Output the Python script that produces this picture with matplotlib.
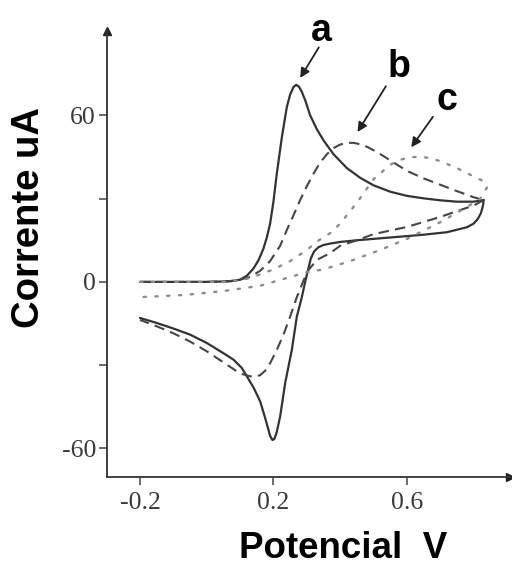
import matplotlib
matplotlib.use("Agg")
import matplotlib.pyplot as plt

plt.rcParams['axes.unicode_minus'] = False

# Curve a (solid): forward and reverse scans
a_fwd_x = [-0.2, 0.0, 0.07, 0.1, 0.12, 0.14, 0.155, 0.17, 0.18, 0.19, 0.2, 0.21, 0.225, 0.24, 0.25,
           0.26, 0.268, 0.276, 0.285, 0.295, 0.31, 0.33, 0.35, 0.38, 0.42, 0.46, 0.5, 0.55, 0.6, 0.65,
           0.7, 0.75, 0.8, 0.83]
a_fwd_y = [0, 0, 0.2, 0.8, 2.2, 4.8, 7.8, 12, 16, 21, 29, 39, 52, 63, 67.5,
           70.2, 71, 70.4, 68.5, 65.5, 60, 55, 51, 46, 41, 37.5, 34.8, 32.5, 31, 30.1,
           29.4, 28.9, 28.9, 29.5]
a_rev_x = [0.83, 0.828, 0.822, 0.812, 0.8, 0.78, 0.75, 0.72, 0.65, 0.55, 0.45, 0.4, 0.37, 0.35,
           0.335, 0.322, 0.312, 0.305, 0.295, 0.285, 0.27, 0.255, 0.235, 0.22, 0.21, 0.203,
           0.197, 0.19, 0.175, 0.16, 0.14, 0.12, 0.105, 0.08, 0.05, 0.0, -0.05, -0.1, -0.15, -0.2]
a_rev_y = [29.5, 27.5, 24.8, 22.6, 21, 19.7, 18.8, 17.9, 17, 16, 15, 14.4, 13.8, 13.3,
           12.5, 11, 8.5, 5, 0, -5.5, -12.5, -24.5, -36.5, -48.5, -54, -56.5,
           -57, -55.5, -49, -43, -38, -34, -31, -28, -25.7, -22, -19, -16.8, -14.8, -13]

# Curve b (dashed)
b_fwd_x = [-0.2, 0.0, 0.07, 0.1, 0.13, 0.16, 0.19, 0.22, 0.24, 0.26, 0.28, 0.3, 0.32, 0.34, 0.36,
           0.38, 0.4, 0.42, 0.44, 0.46, 0.48, 0.51, 0.55, 0.6, 0.65, 0.7, 0.75, 0.8, 0.83]
b_fwd_y = [0, 0, 0.3, 0.8, 1.8, 4, 7.5, 13, 18.7, 24, 29.5, 34.5, 39, 43, 46,
           48.2, 49.5, 50.1, 50.1, 49.6, 48.7, 46.8, 43.8, 40, 37.3, 35, 32.7, 30.5, 29.5]
b_rev_x = [0.83, 0.8, 0.75, 0.7, 0.6, 0.5, 0.45, 0.4, 0.37, 0.33, 0.305, 0.29, 0.27, 0.25, 0.23,
           0.21, 0.19, 0.175, 0.16, 0.145, 0.13, 0.1, 0.05, 0.0, -0.05, -0.1, -0.15, -0.2]
b_rev_y = [29.5, 27.5, 25.5, 23.4, 19.8, 17.2, 15, 13, 10.4, 7.9, 4.3, 0.5, -5.5, -12.5, -19,
           -24.5, -29.3, -32, -33.6, -34.2, -34, -33, -29, -25, -21.5, -18.5, -16, -13.7]

# Curve c (dotted)
c_fwd_x = [-0.2, 0.05, 0.1, 0.14, 0.2, 0.25, 0.3, 0.33, 0.37, 0.4, 0.45, 0.5, 0.55, 0.58, 0.61,
           0.64, 0.67, 0.7, 0.75, 0.8, 0.84]
c_fwd_y = [0, 0, 0.5, 1.8, 4.5, 7.5, 11.5, 14.5, 17.6, 21, 28.5, 37, 42.2, 44, 44.9,
           45.1, 44.6, 43.5, 41, 38, 35.7]
c_rev_x = [0.84, 0.82, 0.78, 0.7, 0.6, 0.52, 0.43, 0.35, 0.3, 0.22, 0.16, 0.05, -0.065, -0.2]
c_rev_y = [34, 30, 27, 21.5, 15.5, 11.5, 7.5, 4.5, 3.5, 0.7, -1.4, -3.3, -4.7, -5.5]

x_ticks = [-0.2, 0.2, 0.6]
x_tick_labels = ['-0.2', '0.2', '0.6']
y_ticks = [-60, -30, 0, 30, 60]
y_tick_labels = ['-60', '', '0', '', '60']

labels = ['a', 'b', 'c']
label_text_xy = [(0.342, 90.5), (0.575, 77.5), (0.72, 65.5)]
label_arrow_tail = [(0.336, 84.5), (0.537, 70.5), (0.678, 59.5)]
label_arrow_head = [(0.28, 73.5), (0.452, 54), (0.613, 48.5)]

fig = plt.figure(figsize=(5.12, 5.66), dpi=100)
ax = fig.add_axes([107/512, 1 - 477/566, (510 - 107)/512, (477 - 31)/566])
ax.set_xlim(-0.299, 0.909)
ax.set_ylim(-70.3, 90.4)

ax.plot(a_fwd_x, a_fwd_y, color='#333333', lw=1.6, solid_capstyle='round', solid_joinstyle='round')
ax.plot(a_rev_x, a_rev_y, color='#333333', lw=1.6, solid_capstyle='round', solid_joinstyle='round')
ax.plot(b_fwd_x, b_fwd_y, color='#454545', lw=1.5, linestyle=(0, (5, 3)))
ax.plot(b_rev_x, b_rev_y, color='#454545', lw=1.5, linestyle=(0, (5, 3)))
ax.plot(c_fwd_x, c_fwd_y, color='#8c8c8c', lw=1.7, linestyle=(0, (1, 4)), dash_capstyle='round')
ax.plot(c_rev_x, c_rev_y, color='#8c8c8c', lw=1.7, linestyle=(0, (1, 4)), dash_capstyle='round')

for s in ['top', 'right']:
    ax.spines[s].set_visible(False)
for s in ['left', 'bottom']:
    ax.spines[s].set_color('#333333')
    ax.spines[s].set_linewidth(1.3)

ax.plot(1, 0, marker='>', color='#222222', markersize=6, transform=ax.transAxes, clip_on=False)
ax.plot(0, 1, marker='^', color='#222222', markersize=6, transform=ax.transAxes, clip_on=False)

ax.set_xticks(x_ticks)
ax.set_xticklabels(x_tick_labels)
ax.set_yticks(y_ticks)
ax.set_yticklabels(y_tick_labels)
ax.tick_params(direction='out', length=5.5, width=1.1, color='#444444', labelcolor='#3a3a3a',
               labelsize=18.5)
ax.tick_params(axis='x', pad=5)
ax.tick_params(axis='y', pad=2.5)
for lab in ax.get_xticklabels() + ax.get_yticklabels():
    lab.set_fontfamily('Liberation Serif')

for lab, txy, tail, head in zip(labels, label_text_xy, label_arrow_tail, label_arrow_head):
    ax.annotate('', xy=head, xytext=tail,
                arrowprops=dict(arrowstyle='-|>', color='#222222', lw=1.3, mutation_scale=14,
                                shrinkA=0, shrinkB=0), annotation_clip=False)
    ax.text(txy[0], txy[1], lab, fontsize=27, fontweight='bold', family='Liberation Sans',
            ha='center', va='center', clip_on=False)

fig.text(343/512, 1 - 558/566, 'Potencial  V', fontsize=26.5, fontweight='bold',
         family='Liberation Sans', ha='center', va='baseline')
fig.text(29/512, 1 - 217/566, 'Corrente uA', fontsize=27.5, fontweight='bold',
         family='Liberation Sans', ha='center', va='center', rotation=90)

fig.savefig('out.png', dpi=100)
